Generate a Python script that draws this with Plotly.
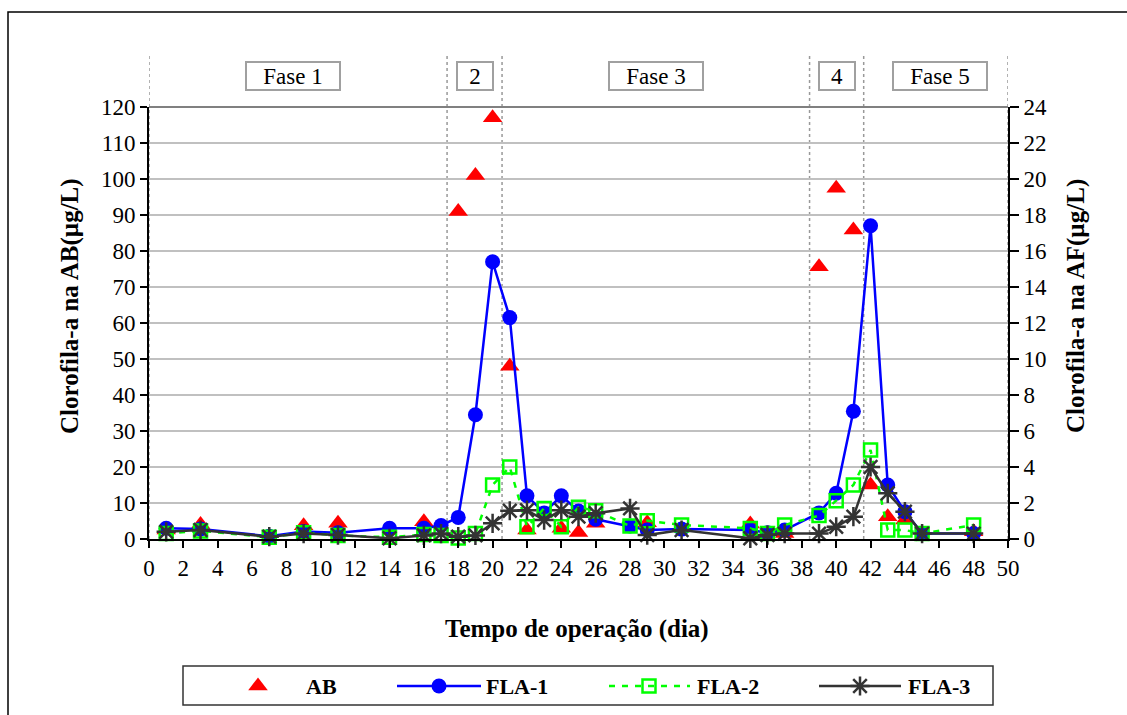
import plotly.graph_objects as go

# Operating time (days)
dias = [1, 3, 7, 9, 11, 14, 16, 17, 18, 19, 20, 21, 22, 23, 24, 25, 26, 28, 29, 31,
        35, 36, 37, 39, 40, 41, 42, 43, 44, 45, 48]

# Chlorophyll-a in AB (left axis, µg/L)
ab = [2.5, 4.0, None, 3.7, 4.4, None, 4.8, None, 91, 101, 117, 48, 2.5, None, 3.0, 1.8, 4.4, None, 4.5, None,
      4.2, None, 1.5, 75.6, 97.4, 85.8, 15, 6.2, 5.3, None, 2.0]

# Chlorophyll-a in AF (right axis, µg/L)
fla1 = [0.6, 0.56, 0.15, 0.42, 0.35, 0.6, 0.6, 0.75, 1.2, 6.9, 15.4, 12.3, 2.4, 1.45, 2.4, 1.55, 1.1, 0.72, 0.5, 0.55,
        0.5, 0.35, 0.5, 1.45, 2.54, 7.1, 17.4, 3.0, 1.52, 0.3, 0.3]
fla2 = [0.3, 0.45, 0.1, 0.35, 0.2, 0.1, 0.25, 0.2, 0.05, 0.3, 3.0, 4.0, 0.68, 1.7, 0.68, 1.76, 1.57, 0.72, 1.02, 0.78,
        0.59, 0.3, 0.78, 1.3, 2.13, 3.0, 4.94, 0.5, 0.5, 0.3, 0.78]
fla3 = [0.4, 0.5, 0.13, 0.3, 0.22, 0.04, 0.2, 0.3, 0.13, 0.2, 0.87, 1.57, 1.6, 1.05, 1.6, 1.24, 1.43, 1.7, 0.22, 0.5,
        0.04, 0.22, 0.3, 0.3, 0.68, 1.24, 4.0, 2.54, 1.52, 0.3, 0.3]

# Phase boundaries (days) and phase labels
limites_fase = [0, 17.35, 20.55, 38.45, 41.6, 50]
fases = ["Fase 1", "2", "Fase 3", "4", "Fase 5"]

W, H = 1127, 715
FONT = "Liberation Serif"


def px(x):
    return x / W


def py(y):
    return 1 - y / H


BLUE = "#0000FF"
GREEN = "#00FF00"
DARK = "#333333"
RED = "#FF0000"

fig = go.Figure()

fig.add_trace(go.Scatter(x=dias, y=ab, mode="markers", name="AB",
                         marker=dict(symbol="triangle-up", size=17, color=RED),
                         xaxis="x", yaxis="y", showlegend=False, cliponaxis=False))
fig.add_trace(go.Scatter(x=dias, y=fla1, mode="lines+markers", name="FLA-1",
                         line=dict(color=BLUE, width=2.5),
                         marker=dict(symbol="circle", size=15, color=BLUE),
                         xaxis="x", yaxis="y2", showlegend=False, cliponaxis=False))
fig.add_trace(go.Scatter(x=dias, y=fla2, mode="lines+markers", name="FLA-2",
                         line=dict(color=GREEN, width=2.5, dash="6px,7px"),
                         marker=dict(symbol="square-open", size=13, color=GREEN, line=dict(width=2.5, color=GREEN)),
                         xaxis="x", yaxis="y2", showlegend=False, cliponaxis=False))
fig.add_trace(go.Scatter(x=dias, y=fla3, mode="lines+markers", name="FLA-3",
                         line=dict(color=DARK, width=2.5),
                         marker=dict(symbol="asterisk-open", size=16, color=DARK, line=dict(width=2.5, color=DARK)),
                         xaxis="x", yaxis="y2", showlegend=False, cliponaxis=False))

# Legend box: its own small pixel-space subplot
LEG_X0, LEG_X1, LEG_Y0, LEG_Y1 = 183, 993, 666, 705
leg_y = 686
fig.add_trace(go.Scatter(x=[258], y=[leg_y], mode="markers",
                         marker=dict(symbol="triangle-up", size=17, color=RED),
                         xaxis="x3", yaxis="y3", showlegend=False, hoverinfo="skip", cliponaxis=False))
for xs, ln, mk in [
    ([397, 439, 481], dict(color=BLUE, width=2.5),
     dict(symbol="circle", size=15, color=BLUE)),
    ([609, 649, 690], dict(color=GREEN, width=2.5, dash="6px,7px"),
     dict(symbol="square-open", size=13, color=GREEN, line=dict(width=2.5, color=GREEN))),
    ([819, 860, 901], dict(color=DARK, width=2.5),
     dict(symbol="asterisk-open", size=16, color=DARK, line=dict(width=2.5, color=DARK))),
]:
    fig.add_trace(go.Scatter(x=[xs[0], xs[2]], y=[leg_y, leg_y], mode="lines", line=ln,
                             xaxis="x3", yaxis="y3", showlegend=False, hoverinfo="skip", cliponaxis=False))
    fig.add_trace(go.Scatter(x=[xs[1]], y=[leg_y], mode="markers", marker=mk,
                             xaxis="x3", yaxis="y3", showlegend=False, hoverinfo="skip", cliponaxis=False))

shapes = []
# outer frame
shapes.append(dict(type="rect", xref="paper", yref="paper", x0=px(8), y0=py(740), x1=px(1150), y1=py(12),
                   line=dict(color="black", width=1.5), layer="above"))
# plot top border
shapes.append(dict(type="line", xref="paper", yref="paper", x0=px(149), x1=px(1008), y0=py(107), y1=py(107),
                   line=dict(color="#808080", width=2)))
# phase boundaries
for d in limites_fase:
    shapes.append(dict(type="line", xref="x", yref="paper", x0=d, x1=d, y0=py(539), y1=py(55),
                       line=dict(color="#999999", width=1.5, dash="dot"), layer="below"))
# legend box
shapes.append(dict(type="rect", xref="paper", yref="paper", x0=px(LEG_X0), x1=px(LEG_X1),
                   y0=py(LEG_Y1), y1=py(LEG_Y0), line=dict(color="#333333", width=1.5)))

annotations = []
# phase labels
fase_centros = [293, 475, 656, 837, 940]
fase_larg = [88, 30, 88, 30, 88]
for txt, cx, w in zip(fases, fase_centros, fase_larg):
    annotations.append(dict(text=txt, xref="paper", yref="paper", x=px(cx), y=py(76), showarrow=False,
                            font=dict(family=FONT, size=23, color="black"), width=w, height=22,
                            bordercolor="#a0a0a0", borderwidth=2, borderpad=2, bgcolor="white",
                            xanchor="center", yanchor="middle"))
# axis titles
annotations.append(dict(text="<b>Clorofila-a na AB(µg/L)</b>", xref="paper", yref="paper", x=px(70), y=py(306),
                        textangle=-90, showarrow=False, font=dict(family=FONT, size=25, color="black"),
                        xanchor="center", yanchor="middle"))
annotations.append(dict(text="<b>Clorofila-a na AF(µg/L)</b>", xref="paper", yref="paper", x=px(1076), y=py(306),
                        textangle=-90, showarrow=False, font=dict(family=FONT, size=25, color="black"),
                        xanchor="center", yanchor="middle"))
annotations.append(dict(text="<b>Tempo de operação (dia)</b>", xref="paper", yref="paper", x=px(577), y=py(629),
                        showarrow=False, font=dict(family=FONT, size=25, color="black"),
                        xanchor="center", yanchor="middle"))
# legend labels
for txt, lx in [("AB", 304), ("FLA-1", 484), ("FLA-2", 695), ("FLA-3", 906)]:
    annotations.append(dict(text="<b>" + txt + "</b>", xref="paper", yref="paper", x=px(lx), y=py(leg_y),
                            showarrow=False, font=dict(family=FONT, size=22, color="black"),
                            xanchor="left", yanchor="middle"))

tickfont = dict(family=FONT, size=23, color="black")

fig.update_layout(
    width=W, height=H,
    margin=dict(l=0, r=0, t=0, b=0),
    paper_bgcolor="white", plot_bgcolor="rgba(0,0,0,0)",
    font=dict(family=FONT, color="black"),
    xaxis=dict(domain=[px(149), px(1008)], range=[0, 50], dtick=2, tick0=0,
               showline=True, linecolor="black", linewidth=2, ticks="outside", ticklen=7, tickwidth=1.5,
               tickcolor="black", showgrid=False, zeroline=False, tickfont=tickfont, anchor="y",
               fixedrange=True, automargin=False),
    yaxis=dict(domain=[py(539), py(107)], range=[0, 120], dtick=10, tick0=0,
               showline=True, linecolor="black", linewidth=2, ticks="outside", ticklen=7, tickwidth=1.5,
               tickcolor="black", showgrid=True, gridcolor="#c0c0c0", gridwidth=1.5, zeroline=False,
               tickfont=tickfont, anchor="x", fixedrange=True, automargin=False),
    yaxis2=dict(range=[0, 24], dtick=2, tick0=0, overlaying="y", side="right", anchor="x",
                showline=True, linecolor="black", linewidth=2, ticks="outside", ticklen=9, tickwidth=1.5,
                tickcolor="black", showgrid=False, zeroline=False, tickfont=tickfont,
                fixedrange=True, automargin=False),
    xaxis3=dict(domain=[px(LEG_X0), px(LEG_X1)], range=[LEG_X0, LEG_X1], visible=False, anchor="y3",
                fixedrange=True),
    yaxis3=dict(domain=[py(LEG_Y1), py(LEG_Y0)], range=[LEG_Y1, LEG_Y0], visible=False, anchor="x3",
                fixedrange=True),
    shapes=shapes,
    annotations=annotations,
    showlegend=False,
)

fig.write_html("out.html")
